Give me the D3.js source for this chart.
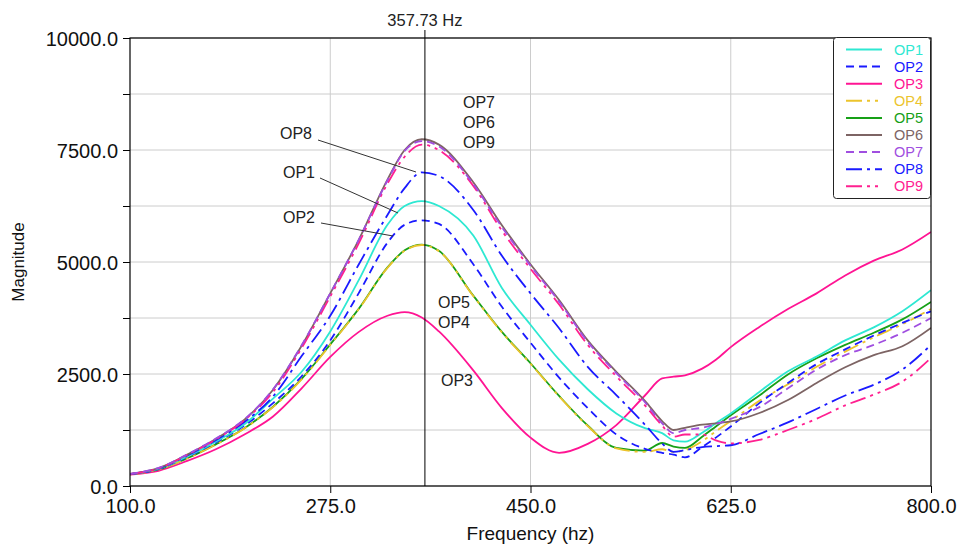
<!doctype html>
<html lang="en">
<head>
<meta charset="utf-8">
<style>
  body { margin: 0; background: #fff; }
  svg { display: block; font-family: Arial, "Liberation Sans", sans-serif; }
  .grid line { stroke: #cccccc; stroke-width: 1px; }
  .curve { fill: none; stroke-width: 1.8px; }
  .note { font-size: 16px; fill: #222; }
</style>
<script src="https://d3js.org/d3.v7.min.js"></script>
</head>
<body>
<svg id="chart" width="959" height="544"></svg>
<script>
// frequency samples (Hz)
const freqs = [100,125,150,175,200,225,250,275,300,325,340,355,370,400,425,450,475,500,525,550,565,575,585,600,612,625,650,675,700,725,750,775,800];

// magnitudes
const op1 = [265,385,660,990,1380,1950,2550,3450,4600,5830,6250,6360,6250,5590,4420,3600,2820,2160,1620,1290,1180,1020,990,1190,1400,1620,2100,2560,2890,3250,3540,3900,4370];
const op2 = [265,380,650,970,1350,1850,2450,3250,4310,5430,5830,5930,5850,4950,4000,3200,2420,1740,1150,830,740,700,640,870,1080,1330,1850,2300,2720,3050,3360,3640,3900];
const op3 = [255,340,560,820,1150,1550,2180,2880,3440,3800,3880,3760,3450,2580,1740,1080,740,940,1360,2020,2400,2440,2470,2620,2820,3100,3550,3950,4300,4700,5030,5280,5670];
const op4 = [262,368,615,925,1285,1760,2380,3150,3950,4870,5250,5380,5240,4240,3430,2730,2000,1340,840,760,820,760,800,1000,1220,1450,1900,2270,2660,3000,3320,3610,3950];
const op5 = [262,370,620,930,1290,1770,2390,3160,3960,4880,5260,5390,5250,4250,3440,2740,2010,1350,850,790,960,880,850,1100,1330,1580,2020,2490,2850,3150,3420,3720,4110];
const op6 = [270,400,700,1050,1480,2150,3130,4300,5500,6840,7500,7740,7620,6780,5820,4950,4150,3250,2550,1900,1450,1250,1300,1370,1400,1440,1630,1920,2300,2650,2920,3120,3530];
const op7 = [270,405,705,1060,1490,2160,3140,4300,5500,6820,7480,7700,7580,6740,5780,4920,4120,3220,2520,1870,1400,1180,1250,1300,1380,1500,1760,2180,2600,2920,3150,3420,3750];
const op8 = [265,390,680,1020,1430,2000,2900,3800,4950,6050,6650,7000,6920,6160,5140,4300,3520,2660,2030,1370,950,760,800,870,890,910,1160,1420,1720,2020,2260,2600,3150];
const op9 = [270,395,695,1040,1470,2100,3080,4230,5420,6750,7350,7620,7500,6700,5700,4850,4050,3150,2450,1800,1350,1100,1150,1150,1020,950,1030,1250,1500,1800,2040,2330,2860];

const seriesNames = ["OP1","OP2","OP3","OP4","OP5","OP6","OP7","OP8","OP9"];
const seriesColors = ["#2ee8d2","#1a1aff","#ff1493","#ecc42c","#17a017","#7d6464","#a04ee0","#1a1aff","#ff2090"];
const seriesDash = ["", "8,5", "", "16,5,3,5,3,5", "", "", "8,5", "16,5,3,5", "16,5,3,5,3,5"];

const xTicks = [100, 275, 450, 625, 800];
const yTicks = [0, 2500, 5000, 7500, 10000];
const yMinor = [1250, 3750, 6250, 8750];
const cursorFreq = 357.73;

const series = [op1,op2,op3,op4,op5,op6,op7,op8,op9].map((vals, i) => ({
  name: seriesNames[i], color: seriesColors[i], dash: seriesDash[i],
  points: freqs.map((f, j) => [f, vals[j]])
}));

const svg = d3.select("#chart");
const margin = {top: 38, right: 28, bottom: 58, left: 130};
const W = 959, H = 544;
const x = d3.scaleLinear().domain([100, 800]).range([margin.left, W - margin.right]);
const y = d3.scaleLinear().domain([0, 10000]).range([H - margin.bottom, margin.top]);
const fmt = d3.format(".1f");

// grid
const grid = svg.append("g").attr("class", "grid");
grid.selectAll("line.h").data(yTicks.concat(yMinor)).join("line")
  .attr("x1", x(100)).attr("x2", x(800))
  .attr("y1", d => y(d)).attr("y2", d => y(d));
grid.selectAll("line.v").data(xTicks.slice(1, -1)).join("line")
  .attr("class", "v")
  .attr("x1", d => x(d)).attr("x2", d => x(d))
  .attr("y1", y(0)).attr("y2", y(10000));

// curves
svg.append("clipPath").attr("id", "clip").append("rect")
  .attr("x", x(100)).attr("y", y(10000))
  .attr("width", x(800) - x(100)).attr("height", y(0) - y(10000));

const line = d3.line().x(d => x(d[0])).y(d => y(d[1])).curve(d3.curveMonotoneX);
const drawOrder = [2, 4, 3, 1, 0, 7, 5, 8, 6];
svg.append("g").attr("clip-path", "url(#clip)")
  .selectAll("path").data(drawOrder.map(i => series[i])).join("path")
  .attr("class", "curve")
  .attr("d", d => line(d.points))
  .attr("stroke", d => d.color)
  .attr("stroke-dasharray", d => d.dash || null);

// axes
const yAxis = svg.append("g").attr("transform", `translate(${margin.left},0)`)
  .call(d3.axisLeft(y).tickValues(yTicks.concat(yMinor)).tickSize(7).tickFormat(d => yTicks.includes(d) ? fmt(d) : ""));
const xAxis = svg.append("g").attr("transform", `translate(0,${H - margin.bottom})`)
  .call(d3.axisBottom(x).tickValues(xTicks).tickSize(7).tickFormat(fmt));
[yAxis, xAxis].forEach(a => {
  a.select(".domain").remove();
  a.selectAll("line").attr("stroke", "#000");
  a.selectAll("text").attr("font-size", 20).attr("fill", "#111").attr("font-family", "Arial, 'Liberation Sans', sans-serif");
});
yAxis.selectAll("text").attr("x", -12).attr("dy", "0.38em");
xAxis.selectAll("text").attr("y", 12).attr("dy", "0.75em");

// frame
svg.append("rect")
  .attr("x", x(100)).attr("y", y(10000))
  .attr("width", x(800) - x(100)).attr("height", y(0) - y(10000))
  .attr("fill", "none").attr("stroke", "#000").attr("stroke-width", 1.2);

// cursor
svg.append("line")
  .attr("x1", x(cursorFreq)).attr("x2", x(cursorFreq))
  .attr("y1", 30).attr("y2", y(0))
  .attr("stroke", "#000").attr("stroke-width", 1);
svg.append("text")
  .attr("x", x(cursorFreq)).attr("y", 26)
  .attr("text-anchor", "middle").attr("font-size", 16.5).attr("fill", "#222")
  .text(`${cursorFreq} Hz`);

// axis titles
svg.append("text")
  .attr("x", (x(100) + x(800)) / 2).attr("y", 540)
  .attr("text-anchor", "middle").attr("font-size", 19).attr("fill", "#111")
  .text("Frequency (hz)");
svg.append("text")
  .attr("transform", `translate(24,${(y(0) + y(10000)) / 2}) rotate(-90)`)
  .attr("text-anchor", "middle").attr("font-size", 17).attr("fill", "#111")
  .text("Magnitude");

// annotations
const notes = svg.append("g");
[["OP7", 463, 108], ["OP6", 463, 128], ["OP9", 463, 148],
 ["OP5", 438, 308], ["OP4", 438, 328], ["OP3", 441, 386]].forEach(n => {
  notes.append("text").attr("class", "note").attr("x", n[1]).attr("y", n[2]).text(n[0]);
});
[["OP8", 280, 139, 318, 140, 416, 172],
 ["OP1", 283, 178, 320, 178, 398, 213],
 ["OP2", 283, 223, 321, 223, 393, 236]].forEach(n => {
  notes.append("text").attr("class", "note").attr("x", n[1]).attr("y", n[2]).text(n[0]);
  notes.append("line").attr("x1", n[3]).attr("y1", n[4]).attr("x2", n[5]).attr("y2", n[6])
    .attr("stroke", "#333").attr("stroke-width", 1);
});

// legend
const lg = svg.append("g");
lg.append("rect").attr("x", 833.5).attr("y", 37.5).attr("width", 97).attr("height", 161)
  .attr("rx", 3).attr("fill", "#fff").attr("stroke", "#222").attr("stroke-width", 1);
const rows = lg.selectAll("g.row").data(series).join("g")
  .attr("transform", (d, i) => `translate(0,${49.5 + i * 17.1})`);
rows.append("line").attr("x1", 846).attr("x2", 882).attr("y1", 0).attr("y2", 0)
  .attr("stroke", d => d.color).attr("stroke-width", 2)
  .attr("stroke-dasharray", d => d.dash || null);
rows.append("text").attr("x", 894).attr("y", 5).attr("font-size", 14.5)
  .attr("fill", d => d.color).text(d => d.name);
</script>
</body>
</html>
